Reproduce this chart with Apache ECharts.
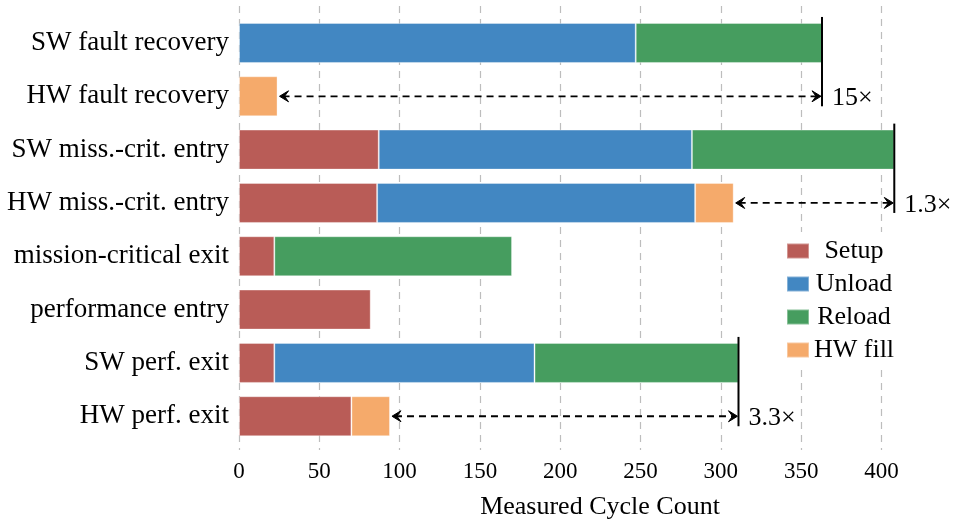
<!DOCTYPE html>
<html>
<head>
<meta charset="utf-8">
<script src="https://cdn.jsdelivr.net/npm/echarts@6/dist/echarts.min.js"></script>
<style>html,body{margin:0;padding:0;background:#fff}#c{width:955px;height:525px}</style>
</head>
<body>
<div id="c"></div>
<script>
const categories = ['SW fault recovery', 'HW fault recovery', 'SW miss.-crit. entry', 'HW miss.-crit. entry', 'mission-critical exit', 'performance entry', 'SW perf. exit', 'HW perf. exit'];
const setup  = [null, null, 87, 86, 22, 82, 22, 70];
const unload = [247, null, 195, 198, null, null, 162, null];
const reload = [116, null, 126, null, 148, null, 127, null];
const hwFill = [null, 24, null, 24, null, null, null, 24];
const xTicks = [0, 50, 100, 150, 200, 250, 300, 350, 400];
// annotation pairs: [software category index, hardware category index, label]
const annotations = [[0, 1, '15×'], [2, 3, '1.3×'], [6, 7, '3.3×']];
const X_MAX = 445.8;

const FONT = 'Liberation Serif';
const seriesDefs = [['Setup', setup, '#b95c57'], ['Unload', unload, '#4287c2'], ['Reload', reload, '#469d5f'], ['HW fill', hwFill, '#f5aa6b']];
function total(i){ let s = 0; for (const d of seriesDefs){ if (d[1][i] != null) s += d[1][i]; } return s; }
const annData = annotations.map(a => [total(a[0]), a[0], total(a[1]), a[1]]);

const chart = echarts.init(document.getElementById('c'), null, {renderer: 'canvas'});
const series = seriesDefs.map(d => ({
  name: d[0], type: 'bar', stack: 'total', xAxisIndex: 1, yAxisIndex: 1,
  barWidth: 40, data: d[1],
  itemStyle: {color: d[2], borderColor: 'rgba(255,255,255,0.35)', borderWidth: 1},
  emphasis: {disabled: true}, animation: false
}));
series.push({
  type: 'custom', coordinateSystem: 'cartesian2d', xAxisIndex: 1, yAxisIndex: 1,
  data: annData, animation: false, silent: true, z: 10, clip: false,
  renderItem: function(params, api){
    const sw = api.value(0), swIdx = api.value(1), hw = api.value(2), hwIdx = api.value(3);
    const pSw = api.coord([sw, swIdx]), pHw = api.coord([hw, hwIdx]);
    const ySw = pSw[1], yHw = pHw[1];
    const xL = pHw[0] + 2, xR = pSw[0] - 1;
    const label = annotations[params.dataIndex][2];
    return {type: 'group', children: [
      {type: 'line', shape: {x1: pSw[0], y1: ySw - 26, x2: pSw[0], y2: yHw + 10}, style: {stroke: '#000', lineWidth: 2}},
      {type: 'line', shape: {x1: xL + 3, y1: yHw, x2: xR - 3, y2: yHw}, style: {stroke: '#000', lineWidth: 1.8, lineDash: [7, 5]}},
      {type: 'polygon', shape: {points: [[xL + 9, yHw - 5.5], [xL, yHw], [xL + 9, yHw + 5.5], [xL + 5, yHw]]}, style: {stroke: '#000', fill: '#000', lineWidth: 1, lineJoin: 'round'}},
      {type: 'polygon', shape: {points: [[xR - 9, yHw - 5.5], [xR, yHw], [xR - 9, yHw + 5.5], [xR - 5, yHw]]}, style: {stroke: '#000', fill: '#000', lineWidth: 1, lineJoin: 'round'}},
      {type: 'text', x: pSw[0] + 10, y: yHw + 2, style: {text: label, fontSize: 26, fontFamily: FONT, fill: '#000', verticalAlign: 'middle', align: 'left'}}
    ]};
  }
});

chart.setOption({
  animation: false,
  textStyle: {fontFamily: FONT},
  grid: [
    {left: 239, right: 0, top: 6, height: 447},
    {left: 239, right: 0, top: 16.3, height: 426.6}
  ],
  xAxis: [
    {gridIndex: 0, type: 'value', min: 0, max: X_MAX, interval: 50,
     axisLine: {show: false}, axisTick: {show: false},
     axisLabel: {fontSize: 23, color: '#000', fontFamily: FONT, margin: 10, showMaxLabel: false,
       formatter: v => xTicks.indexOf(v) >= 0 ? String(v) : ''},
     splitLine: {show: true, showMaxLine: false, lineStyle: {color: '#bdbdbd', width: 1.2, type: [7, 6]}},
     name: 'Measured Cycle Count', nameLocation: 'middle', nameGap: 44,
     nameTextStyle: {fontSize: 26, color: '#000', fontFamily: FONT, padding: [0, 0, 0, 6]}},
    {gridIndex: 1, type: 'value', min: 0, max: X_MAX, show: false}
  ],
  yAxis: [
    {gridIndex: 0, type: 'value', min: 0, max: 1, show: false},
    {gridIndex: 1, type: 'category', data: categories, inverse: true,
     axisLine: {show: false}, axisTick: {show: false}, splitLine: {show: false},
     axisLabel: {fontSize: 27, color: '#000', fontFamily: FONT, margin: 10}}
  ],
  legend: {
    data: ['Setup', 'Unload', 'Reload', 'HW fill'], orient: 'vertical',
    left: 776, top: 232, padding: [6, 10], itemGap: 7, itemWidth: 22, itemHeight: 15,
    backgroundColor: '#fff', icon: 'rect', selectedMode: false,
    formatter: n => '{c|' + n + '}',
    textStyle: {fontSize: 26, color: '#000', fontFamily: FONT,
      rich: {c: {width: 80, align: 'center', fontSize: 26, height: 26, lineHeight: 26, fontFamily: FONT}}}
  },
  series: series
});
</script>
</body>
</html>
